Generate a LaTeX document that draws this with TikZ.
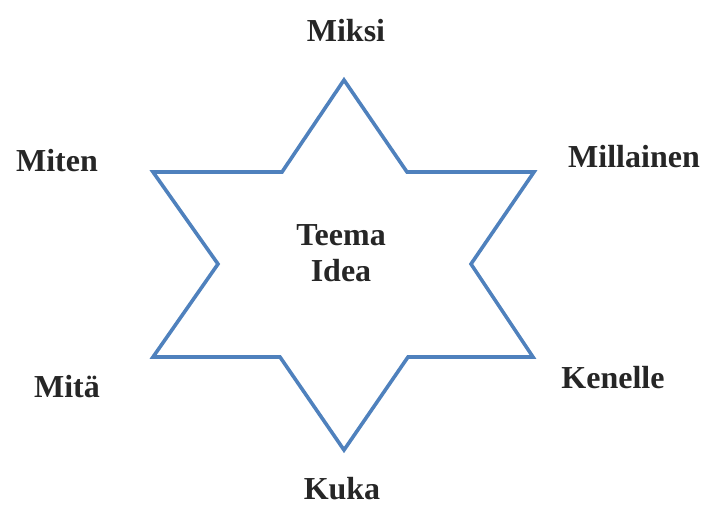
\documentclass[tikz,border=0pt]{standalone}
\usepackage{fontspec}
\setmainfont{Liberation Serif}
\begin{document}
\begin{tikzpicture}[x=1pt,y=-1pt,
  lbl/.style={font=\fontsize{32}{36}\selectfont\bfseries, text=black!85, inner sep=0pt, align=center},
  starline/.style={draw={rgb,255:red,79;green,129;blue,189}, line width=3.6pt, line join=miter}]
\useasboundingbox (0,0) rectangle (711,507);
\coordinate (t) at (344,80);
\coordinate (ul) at (153,172);
\coordinate (uil) at (282,172);
\coordinate (uir) at (407,172);
\coordinate (ur) at (534,172);
\coordinate (li) at (218,264);
\coordinate (ri) at (471,264);
\coordinate (ll) at (153,357);
\coordinate (lil) at (280,357);
\coordinate (lir) at (408,357);
\coordinate (lr) at (533,357);
\coordinate (b) at (344,450);
\draw[starline] (t) -- (uir) -- (ur) -- (ri) -- (lr) -- (lir) -- (b) -- (lil) -- (ll) -- (li) -- (ul) -- (uil) -- cycle;
\node[lbl] (center) at (341,253) {Teema\\Idea};
\node[lbl] (miksi) at (346,31) {Miksi};
\node[lbl] (millainen) at (634,157) {Millainen};
\node[lbl] (miten) at (57,161) {Miten};
\node[lbl] (mita) at (67,387) {Mitä};
\node[lbl] (kenelle) at (613,378) {Kenelle};
\node[lbl] (kuka) at (342,489) {Kuka};
\end{tikzpicture}
\end{document}
